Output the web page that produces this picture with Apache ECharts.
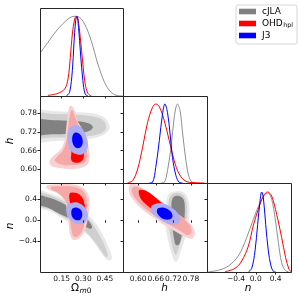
<!DOCTYPE html>
<html><head><meta charset="utf-8">
<script src="https://cdn.jsdelivr.net/npm/echarts@6/dist/echarts.min.js"></script>
<style>html,body{margin:0;padding:0;background:#fff}#c{width:299px;height:300px}</style>
</head><body><div id="c"></div><script>
// ---------- tick labels ----------
const omegaTicks = [0.15, 0.30, 0.45];
const hTicks = [0.60, 0.66, 0.72, 0.78];
const nTicks = [-0.4, 0.0, 0.4];
const datasets = ['cJLA', 'OHD', 'J3'];

// ---------- 1D marginal PDFs (value, normalised density) ----------
const pdfOmega_cJLA = [[0.005,0.546],[0.055,0.671],[0.124,0.838],[0.194,0.963],[0.217,0.988],[0.240,0.996],[0.263,0.992],[0.286,0.963],[0.309,0.900],[0.332,0.808],[0.355,0.692],[0.378,0.546],[0.401,0.400],[0.447,0.171],[0.493,0.046],[0.539,0.004],[0.574,0.0]];
const pdfOmega_OHD = [[0.055,0.008],[0.124,0.033],[0.171,0.088],[0.194,0.213],[0.210,0.483],[0.224,0.775],[0.240,0.963],[0.251,0.996],[0.263,0.963],[0.279,0.733],[0.297,0.400],[0.313,0.150],[0.332,0.033],[0.355,0.0]];
const pdfOmega_J3 = [[0.182,0.0],[0.205,0.046],[0.224,0.317],[0.235,0.650],[0.247,0.942],[0.256,0.996],[0.267,0.858],[0.281,0.525],[0.297,0.192],[0.313,0.025],[0.332,0.0]];

const pdfH_cJLA = [[0.677,0],[0.689,0.0085],[0.700,0.156],[0.712,0.451],[0.723,0.830],[0.734,0.999],[0.743,0.914],[0.752,0.619],[0.763,0.282],[0.774,0.072],[0.785,0.0085],[0.797,0]];
const pdfH_OHD = [[0.564,0.003],[0.581,0.030],[0.598,0.177],[0.615,0.451],[0.632,0.767],[0.649,0.957],[0.660,0.999],[0.672,0.965],[0.689,0.788],[0.706,0.535],[0.723,0.282],[0.740,0.114],[0.763,0.021],[0.791,0.005],[0.825,0.001]];
const pdfH_J3 = [[0.638,0],[0.649,0.0085],[0.660,0.198],[0.672,0.535],[0.683,0.872],[0.691,0.999],[0.700,0.893],[0.709,0.619],[0.717,0.324],[0.729,0.093],[0.740,0.0085],[0.751,0]];

const pdfN_cJLA = [[-0.958,0.004],[-0.756,0.021],[-0.555,0.074],[-0.353,0.198],[-0.185,0.424],[-0.050,0.651],[0.085,0.857],[0.186,0.960],[0.253,0.972],[0.320,0.898],[0.388,0.672],[0.455,0.363],[0.522,0.115],[0.590,0.021],[0.657,0.004]];
const pdfN_OHD = [[-0.622,0.004],[-0.420,0.045],[-0.285,0.136],[-0.150,0.321],[-0.050,0.577],[0.051,0.775],[0.152,0.939],[0.239,0.989],[0.320,0.939],[0.421,0.713],[0.522,0.424],[0.602,0.177],[0.670,0.033],[0.710,0.004]];
const pdfN_J3 = [[-0.150,0.0],[-0.083,0.045],[-0.016,0.26],[0.0375,0.589],[0.085,0.877],[0.118,0.989],[0.152,0.919],[0.199,0.589],[0.253,0.26],[0.306,0.074],[0.353,0.009],[0.401,0]];

// ---------- 2D contours: (Omega_m0, h) ----------
const omH_cJLA_3 = [[-0.05,0.785],[0.10,0.786],[0.22,0.784],[0.33,0.781],[0.40,0.776],[0.45,0.765],[0.47,0.752],[0.484,0.737],[0.47,0.722],[0.43,0.708],[0.35,0.698],[0.22,0.693],[0.10,0.691],[-0.05,0.690]];
const omH_cJLA_2 = [[-0.05,0.776],[0.10,0.777],[0.25,0.775],[0.36,0.770],[0.42,0.762],[0.45,0.750],[0.458,0.737],[0.45,0.724],[0.41,0.713],[0.33,0.706],[0.20,0.703],[0.08,0.702],[-0.05,0.702]];
const omH_cJLA_1 = [[-0.05,0.757],[0.10,0.757],[0.22,0.755],[0.30,0.752],[0.345,0.746],[0.366,0.736],[0.35,0.725],[0.30,0.718],[0.20,0.714],[0.08,0.712],[-0.05,0.712]];
const omH_OHD_3 = [[0.2166,0.8045],[0.2396,0.7884],[0.258,0.7563],[0.2857,0.735],[0.3203,0.7029],[0.3364,0.6709],[0.3433,0.6388],[0.3318,0.6173],[0.2857,0.6046],[0.2166,0.6003],[0.1244,0.6046],[0.0737,0.6131],[0.0668,0.628],[0.0968,0.6441],[0.1475,0.6655],[0.1705,0.6922],[0.182,0.735],[0.1935,0.7778],[0.2028,0.7992]];
const omH_OHD_2 = [[0.2212,0.7906],[0.2442,0.7671],[0.2673,0.7403],[0.3087,0.7029],[0.3226,0.6709],[0.3272,0.6388],[0.3087,0.6227],[0.2627,0.6152],[0.1935,0.613],[0.136,0.6173],[0.1014,0.628],[0.1198,0.6409],[0.159,0.6602],[0.1843,0.6922],[0.1935,0.735],[0.2074,0.7724]];
const omH_OHD_1 = [[0.235,0.7136],[0.2742,0.7190],[0.2972,0.6922],[0.3041,0.6547],[0.2995,0.6333],[0.2742,0.6227],[0.2396,0.6216],[0.2166,0.6301],[0.2166,0.6494],[0.2235,0.6815]];
const omH_J3_2 = [[0.235,0.7403],[0.2742,0.7382],[0.3087,0.7190],[0.3318,0.6868],[0.3272,0.6654],[0.2972,0.6494],[0.2627,0.6473],[0.2166,0.6580],[0.1935,0.6815],[0.1889,0.7082],[0.2051,0.7297]];
const omH_J3_1 = [[0.2396,0.7168],[0.2673,0.7157],[0.2903,0.7029],[0.2949,0.6815],[0.2765,0.6687],[0.2488,0.6687],[0.2281,0.6815],[0.2235,0.7029]];

// ---------- 2D contours: (Omega_m0, n) ----------
const omN_cJLA_3 = [[-0.04,0.57],[0.0783,0.5073],[0.1705,0.3994],[0.2627,0.2724],[0.3318,0.1137],[0.3894,-0.0768],[0.4355,-0.2801],[0.4746,-0.5087],[0.4977,-0.6992],[0.4884,-0.7626],[0.4654,-0.75],[0.4285,-0.6357],[0.3825,-0.458],[0.3318,-0.2864],[0.2742,-0.1594],[0.2166,-0.0642],[0.1475,0.05],[0.0783,0.1644],[-0.04,0.27]];
const omN_cJLA_2 = [[-0.04,0.53],[0.0783,0.4692],[0.1705,0.3549],[0.2627,0.228],[0.3272,0.0628],[0.3779,-0.1277],[0.4193,-0.3182],[0.4562,-0.534],[0.470,-0.6801],[0.4562,-0.6992],[0.4285,-0.5976],[0.3825,-0.4197],[0.3318,-0.2547],[0.2742,-0.1277],[0.2166,-0.0261],[0.1475,0.0882],[0.0783,0.2025],[-0.04,0.30]];
const omN_cJLA_1 = [[-0.04,0.48],[0.0783,0.4185],[0.1705,0.3042],[0.2511,0.1899],[0.3203,0.0375],[0.3594,-0.1086],[0.3548,-0.1594],[0.3272,-0.1404],[0.2742,-0.0642],[0.2051,0.0375],[0.1244,0.139],[0.0553,0.2406],[-0.04,0.33]];
const omN_OHD_3 = [[0.0438,0.6597],[0.1244,0.685],[0.2166,0.685],[0.2857,0.6343],[0.3272,0.5263],[0.3433,0.3676],[0.3364,0.1137],[0.3203,-0.1086],[0.2972,-0.2673],[0.2627,-0.3626],[0.2281,-0.369],[0.2074,-0.2673],[0.1982,-0.0768],[0.1889,0.1453],[0.1705,0.3676],[0.1244,0.5073],[0.0668,0.5709],[0.0438,0.6216]];
const omN_OHD_2 = [[0.0783,0.6343],[0.1475,0.647],[0.2281,0.6406],[0.2857,0.5899],[0.3157,0.4819],[0.3272,0.3358],[0.3203,0.1137],[0.3041,-0.1086],[0.2811,-0.2547],[0.2511,-0.3182],[0.2304,-0.2991],[0.2166,-0.172],[0.2074,0.0184],[0.1935,0.2406],[0.1705,0.3994],[0.1244,0.5263],[0.0783,0.5899]];
const omN_OHD_1 = [[0.2051,0.5073],[0.2511,0.52],[0.2903,0.4438],[0.3087,0.3042],[0.3134,0.1453],[0.2903,0.0184],[0.2511,-0.0006],[0.2212,0.1137],[0.2097,0.3042]];
const omN_J3_2 = [[0.2166,0.3295],[0.2627,0.3358],[0.3087,0.2533],[0.3318,0.1137],[0.3203,-0.0134],[0.2857,-0.0768],[0.2396,-0.0578],[0.1982,0.0375],[0.182,0.1771],[0.1889,0.2914]];
const omN_J3_1 = [[0.2281,0.228],[0.258,0.2406],[0.2857,0.1899],[0.2926,0.0946],[0.2788,0.012],[0.2465,0.0057],[0.2235,0.0628],[0.2166,0.1644]];

// ---------- 2D contours: (h, n) ----------
const hN_cJLA_3 = [[0.7115,0.5263],[0.7399,0.558],[0.7626,0.4947],[0.774,0.3042],[0.774,0.05],[0.7683,-0.2039],[0.7569,-0.3944],[0.7456,-0.585],[0.7365,-0.74],[0.7285,-0.79],[0.7206,-0.745],[0.7115,-0.585],[0.7001,-0.331],[0.691,-0.0134],[0.6944,0.3042],[0.7001,0.4629]];
const hN_cJLA_2 = [[0.7172,0.4947],[0.7399,0.52],[0.7569,0.4565],[0.766,0.2724],[0.7649,0.05],[0.7592,-0.172],[0.749,-0.3626],[0.7365,-0.5531],[0.7285,-0.6611],[0.7206,-0.585],[0.7115,-0.3626],[0.7035,-0.0768],[0.7024,0.2406],[0.7069,0.4185]];
const hN_cJLA_1 = [[0.7206,0.4438],[0.7399,0.4629],[0.7547,0.3994],[0.7592,0.2406],[0.7569,-0.0134],[0.749,-0.2673],[0.7399,-0.458],[0.7285,-0.4706],[0.7228,-0.3626],[0.7172,-0.1404],[0.7138,0.1137],[0.7138,0.3358]];
const hN_OHD_3 = [[0.5728,0.685],[0.5979,0.6724],[0.6433,0.4947],[0.7001,0.2724],[0.7456,0.0819],[0.7796,-0.0768],[0.7933,-0.2357],[0.7853,-0.3436],[0.7683,-0.331],[0.7342,-0.2357],[0.6774,-0.0452],[0.6206,0.1771],[0.5865,0.3676],[0.5694,0.5263]];
const hN_OHD_2 = [[0.5842,0.6343],[0.6092,0.609],[0.6547,0.4438],[0.7058,0.2406],[0.7513,0.05],[0.7774,-0.1086],[0.7819,-0.2357],[0.7683,-0.2801],[0.7399,-0.1911],[0.6831,-0.0006],[0.6262,0.2089],[0.5922,0.3994],[0.5774,0.558]];
const hN_OHD_1 = [[0.6035,0.5709],[0.632,0.5454],[0.666,0.3994],[0.6944,0.2406],[0.7001,0.1137],[0.6831,0.0819],[0.6547,0.1771],[0.6262,0.3042],[0.6069,0.431]];
const hN_J3_2 = [[0.649,0.2914],[0.6774,0.3295],[0.7115,0.2533],[0.7365,0.1264],[0.7433,-0.0006],[0.7285,-0.0768],[0.7001,-0.0642],[0.6683,0.0375],[0.6467,0.1453],[0.6433,0.2406]];
const hN_J3_1 = [[0.6683,0.228],[0.6887,0.2406],[0.7092,0.1771],[0.7172,0.0819],[0.7092,0.0184],[0.6887,0.0184],[0.6717,0.0819],[0.6637,0.1644]];

// ---------- styling / layout ----------
const FONT = 'DejaVu Sans';
const C = {
  gray: {line:'#8f8f8f', l3:'#e8e8e8', l2:'#cfcfcf', l1:'#828282', patch:'#808080'},
  red:  {line:'#ff0000', l3:'#fad0d0', l2:'#f5a8a8', l1:'#ff0000', patch:'#ff0000'},
  blue: {line:'#0000ff', l2:'#adadf3', l1:'#0000ff', patch:'#0000ff'}
};
const L = [40, 123, 207], W = [83, 84, 84];
const T = [8, 96, 183], H = [88, 87, 89];
const omRange = [0, 0.575], hColRange = [0.548, 0.835], hRowRange = [0.556, 0.835], nRange = [-0.985, 0.71], pdfRange = [0, 1.1];

const cells = [[0,0],[0,1],[1,1],[0,2],[1,2],[2,2]]; // [col,row]
const grids = cells.map(([c,r]) => ({left:L[c], top:T[r], width:W[c], height:H[r], containLabel:false}));

const fmt2 = v => v.toFixed(2);
const fmtN = v => (Math.abs(v) < 1e-9 ? '0.0' : v.toFixed(1)).replace('-', '\u2212');
const tickStyle = {show:true, inside:false, length:2.5, lineStyle:{color:'#222', width:1}};

function xAx(gi, range, ticks, showLabel, fmt) {
  return {type:'value', gridIndex:gi, min:range[0], max:range[1], z:5,
    axisLine:{show:false}, splitLine:{show:false},
    axisTick:Object.assign({customValues:ticks}, tickStyle),
    axisLabel:{show:showLabel, customValues:ticks, formatter:fmt, fontSize:7.5, fontFamily:FONT, color:'#111', margin:3}};
}
function yAx(gi, range, ticks, showLabel, fmt) {
  return {type:'value', gridIndex:gi, position:'left', min:range[0], max:range[1], z:5,
    axisLine:{show:false}, splitLine:{show:false},
    axisTick:Object.assign({customValues:ticks}, tickStyle),
    axisLabel:{show:showLabel, customValues:ticks, formatter:fmt, fontSize:7.5, fontFamily:FONT, color:'#111', margin:3}};
}
const pdfAx = gi => ({type:'value', gridIndex:gi, min:pdfRange[0], max:pdfRange[1], show:false});

const xAxis = [
  xAx(0, omRange, omegaTicks, false),
  xAx(1, omRange, omegaTicks, false),
  xAx(2, hColRange, hTicks, false),
  xAx(3, omRange, omegaTicks, true, fmt2),
  xAx(4, hColRange, hTicks, true, fmt2),
  xAx(5, nRange, nTicks, true, fmtN)
];
const yAxis = [
  pdfAx(0),
  yAx(1, hRowRange, hTicks, true, fmt2),
  pdfAx(2),
  yAx(3, nRange, nTicks, true, fmtN),
  yAx(4, nRange, nTicks, false),
  pdfAx(5),
  yAx(2, hRowRange, hTicks, false),
  yAx(5, nRange, nTicks, false)
];

function poly(xi, yi, pts, color) {
  return {type:'custom', xAxisIndex:xi, yAxisIndex:yi, data:pts, clip:true, silent:true,
    renderItem: function (params, api) {
      if (params.dataIndex !== 0) return null;
      const p = pts.map(d => api.coord(d));
      return {type:'polygon', shape:{points:p, smooth:0.35}, style:{fill:color, stroke:null}};
    }};
}
function line(xi, yi, pts, color) {
  return {type:'line', xAxisIndex:xi, yAxisIndex:yi, data:pts, smooth:0.35, symbol:'none', silent:true,
    clip:true, lineStyle:{color:color, width:1}};
}
function panel(xi, yi, g3, g2, g1, r3, r2, r1, b2, b1) {
  return [poly(xi,yi,g3,C.gray.l3), poly(xi,yi,g2,C.gray.l2), poly(xi,yi,g1,C.gray.l1),
          poly(xi,yi,r3,C.red.l3), poly(xi,yi,r2,C.red.l2), poly(xi,yi,r1,C.red.l1),
          poly(xi,yi,b2,C.blue.l2), poly(xi,yi,b1,C.blue.l1)];
}

const series = [].concat(
  [line(0,0,pdfOmega_cJLA,C.gray.line), line(0,0,pdfOmega_OHD,C.red.line), line(0,0,pdfOmega_J3,C.blue.line)],
  [line(2,2,pdfH_cJLA,C.gray.line), line(2,2,pdfH_OHD,C.red.line), line(2,2,pdfH_J3,C.blue.line)],
  [line(5,5,pdfN_cJLA,C.gray.line), line(5,5,pdfN_OHD,C.red.line), line(5,5,pdfN_J3,C.blue.line)],
  panel(1,1,omH_cJLA_3,omH_cJLA_2,omH_cJLA_1,omH_OHD_3,omH_OHD_2,omH_OHD_1,omH_J3_2,omH_J3_1),
  panel(3,3,omN_cJLA_3,omN_cJLA_2,omN_cJLA_1,omN_OHD_3,omN_OHD_2,omN_OHD_1,omN_J3_2,omN_J3_1),
  panel(4,4,hN_cJLA_3,hN_cJLA_2,hN_cJLA_1,hN_OHD_3,hN_OHD_2,hN_OHD_1,hN_J3_2,hN_J3_1)
);

// panel frames, axis titles and legend
const graphic = [];
cells.forEach(([c,r]) => graphic.push({type:'rect', z:100, silent:true,
  shape:{x:L[c]+0.5, y:T[r]+0.5, width:W[c], height:H[r]}, style:{fill:null, stroke:'#262626', lineWidth:1}}));
const titleStyle = {fontFamily:FONT, fontSize:10.5, fill:'#000'};
graphic.push({type:'text', z:100, x:79, y:288.5, style:Object.assign({text:'\u03a9', align:'right', verticalAlign:'middle'}, titleStyle)});
graphic.push({type:'text', z:100, x:79.5, y:291.5, style:{text:'{i|m}{r|0}', align:'left', verticalAlign:'middle', fontFamily:FONT, fontSize:7.5, fill:'#000',
  rich:{i:{fontStyle:'italic', fontSize:7.5, fontFamily:FONT}, r:{fontSize:7.5, fontFamily:FONT}}}});
graphic.push({type:'text', z:100, x:164.5, y:288, style:Object.assign({text:'h', align:'center', verticalAlign:'middle', fontStyle:'italic'}, titleStyle)});
graphic.push({type:'text', z:100, x:248, y:288, style:Object.assign({text:'n', align:'center', verticalAlign:'middle', fontStyle:'italic'}, titleStyle)});
graphic.push({type:'text', z:100, x:10, y:141, rotation:Math.PI/2, style:Object.assign({text:'h', align:'center', verticalAlign:'middle', fontStyle:'italic'}, titleStyle)});
graphic.push({type:'text', z:100, x:10, y:226, rotation:Math.PI/2, style:Object.assign({text:'n', align:'center', verticalAlign:'middle', fontStyle:'italic'}, titleStyle)});

graphic.push({type:'rect', z:100, shape:{x:236, y:5, width:61, height:39, r:2}, style:{fill:'rgba(255,255,255,0.9)', stroke:'#cccccc', lineWidth:0.8}});
const legendColors = [C.gray.patch, C.red.patch, C.blue.patch];
datasets.forEach((name, i) => {
  const yc = 11.5 + i * 12;
  graphic.push({type:'rect', z:101, shape:{x:239, y:yc-2.8, width:17, height:5.6}, style:{fill:legendColors[i]}});
  if (name === 'OHD') {
    graphic.push({type:'text', z:101, x:262, y:yc, style:{text:'OHD', fontFamily:FONT, fontSize:9, fill:'#000', verticalAlign:'middle'}});
    graphic.push({type:'text', z:101, x:283.3, y:yc+2.2, style:{text:'hpl', fontFamily:FONT, fontSize:6.3, fill:'#000', verticalAlign:'middle'}});
  } else {
    graphic.push({type:'text', z:101, x:262, y:yc, style:{text:name, fontFamily:FONT, fontSize:9, fill:'#000', verticalAlign:'middle'}});
  }
});

const chart = echarts.init(document.getElementById('c'), null, {renderer:'canvas'});
chart.setOption({animation:false, backgroundColor:'#fff', grid:grids, xAxis:xAxis, yAxis:yAxis, series:series, graphic:graphic});
</script></body></html>
